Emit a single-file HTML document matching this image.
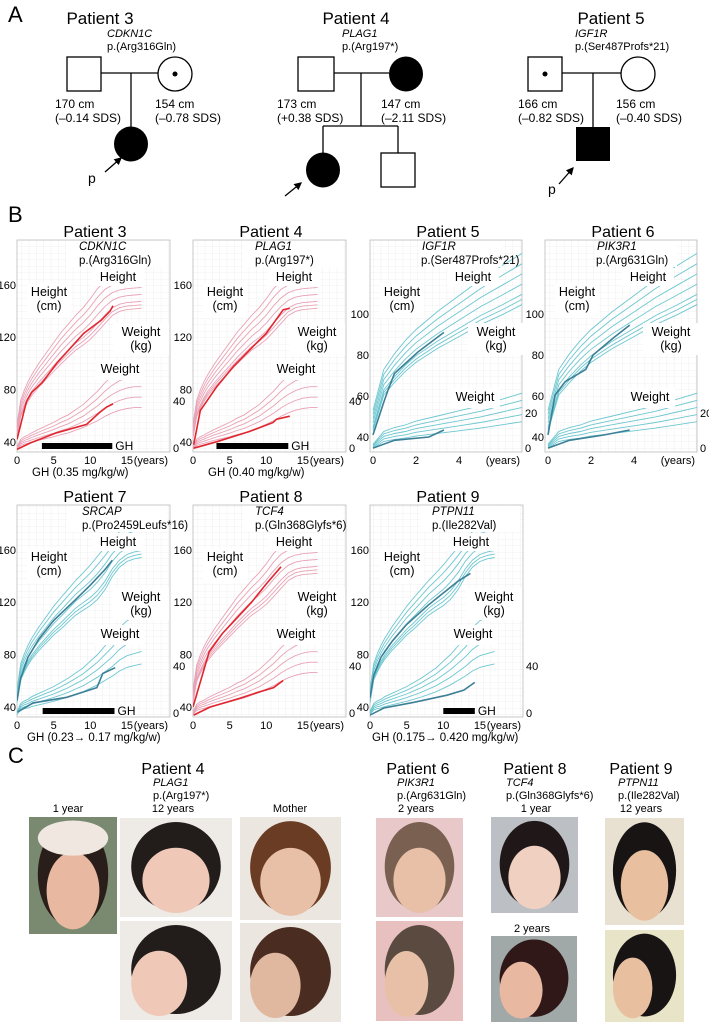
<!DOCTYPE html>
<html><head><meta charset="utf-8"><style>
html,body{margin:0;padding:0;background:#fff}
svg{display:block;font-family:"Liberation Sans",Arial,sans-serif}
</style></head><body>
<svg id="fig" width="709" height="1023" viewBox="0 0 709 1023" xmlns="http://www.w3.org/2000/svg">
<defs>
<pattern id="grid" width="7.33" height="6.5" patternUnits="userSpaceOnUse"><path d="M7.33 0V6.5H0" fill="none" stroke="#e6e6e6" stroke-width="0.6"/></pattern>
<marker id="arr" markerWidth="6" markerHeight="6" refX="5" refY="3" orient="auto"><path d="M0,0L6,3L0,6z" fill="#000"/></marker>
</defs>
<g id="panelA" font-size="12">
<text x="8" y="22" font-size="22">A</text>
<!-- Patient 3 -->
<g>
<text x="100" y="24" font-size="17" text-anchor="middle">Patient 3</text>
<text x="107" y="37" font-style="italic" font-size="11">CDKN1C</text>
<text x="107" y="50" font-size="11">p.(Arg316Gln)</text>
<rect x="67" y="57" width="34" height="34" fill="#fff" stroke="#000" stroke-width="1.3"/>
<circle cx="175" cy="74" r="17" fill="#fff" stroke="#000" stroke-width="1.3"/>
<circle cx="175" cy="74" r="2.5" fill="#000"/>
<line x1="101" y1="73" x2="158" y2="73" stroke="#000" stroke-width="1.3"/>
<line x1="131" y1="73" x2="131" y2="127" stroke="#000" stroke-width="1.3"/>
<ellipse cx="131" cy="144" rx="17" ry="17.5" fill="#000"/>
<text x="55" y="108">170 cm</text><text x="55" y="122">(–0.14 SDS)</text>
<text x="155" y="108">154 cm</text><text x="155" y="122">(–0.78 SDS)</text>
<line x1="105" y1="172" x2="121" y2="158" stroke="#000" stroke-width="1.3" marker-end="url(#arr)"/>
<text x="88" y="183" font-size="14">p</text>
</g>
<g>
<text x="356" y="24" font-size="17" text-anchor="middle">Patient 4</text>
<text x="342" y="37" font-style="italic" font-size="11">PLAG1</text>
<text x="342" y="50" font-size="11">p.(Arg197*)</text>
<rect x="298" y="57" width="36" height="34" fill="#fff" stroke="#000" stroke-width="1.3"/>
<ellipse cx="406" cy="74" rx="17" ry="17.5" fill="#000"/>
<line x1="334" y1="73" x2="389" y2="73" stroke="#000" stroke-width="1.3"/>
<line x1="361" y1="73" x2="361" y2="126" stroke="#000" stroke-width="1.3"/>
<line x1="323" y1="126" x2="398" y2="126" stroke="#000" stroke-width="1.3"/>
<line x1="323" y1="126" x2="323" y2="153" stroke="#000" stroke-width="1.3"/>
<line x1="398" y1="126" x2="398" y2="153" stroke="#000" stroke-width="1.3"/>
<ellipse cx="323" cy="170" rx="17" ry="17.5" fill="#000"/>
<rect x="381" y="153" width="34" height="34" fill="#fff" stroke="#000" stroke-width="1.3"/>
<text x="277" y="108">173 cm</text><text x="277" y="122">(+0.38 SDS)</text>
<text x="381" y="108">147 cm</text><text x="381" y="122">(–2.11 SDS)</text>
<line x1="285" y1="196" x2="301" y2="183" stroke="#000" stroke-width="1.3" marker-end="url(#arr)"/>
</g>
<g>
<text x="611" y="24" font-size="17" text-anchor="middle">Patient 5</text>
<text x="575" y="37" font-style="italic" font-size="11">IGF1R</text>
<text x="575" y="50" font-size="11">p.(Ser487Profs*21)</text>
<rect x="528" y="57" width="34" height="34" fill="#fff" stroke="#000" stroke-width="1.3"/>
<circle cx="545" cy="74" r="2.5" fill="#000"/>
<circle cx="638" cy="74" r="17" fill="#fff" stroke="#000" stroke-width="1.3"/>
<line x1="562" y1="73" x2="621" y2="73" stroke="#000" stroke-width="1.3"/>
<line x1="593" y1="73" x2="593" y2="127" stroke="#000" stroke-width="1.3"/>
<rect x="576" y="127" width="34" height="34" fill="#000"/>
<text x="518" y="108">166 cm</text><text x="518" y="122">(–0.82 SDS)</text>
<text x="616" y="108">156 cm</text><text x="616" y="122">(–0.40 SDS)</text>
<line x1="559" y1="184" x2="573" y2="168" stroke="#000" stroke-width="1.3" marker-end="url(#arr)"/>
<text x="548" y="194" font-size="14">p</text>
</g>
</g>
<text x="8" y="222" font-size="22">B</text>
<g id="charts"></g>
<g id="panelC"></g>
</svg>
<script>
// ---- reference growth data ----
const refAges = [0,0.5,1,1.5,2,3,4,5,6,7,8,9,10,11,12,13,14,15,16,17];
const girlHeightMean = [49,67,74,80,85,93,100,107,114,120,126,131,137,144,150,154,156,157,157.5,158];
const boyHeightMean = [49,68,75,81,86,94,101,108,114,120,126,131,136,142,149,157,163,167,169,170];
const heightSD = [2,2.5,2.8,3,3.2,3.6,4,4.4,4.8,5,5.3,5.7,6.2,6.6,6.5,5.8,5.4,5.3,5.3,5.3];
const girlWeightMean = [3,7.5,9,10,11.3,13.5,15.5,17.5,20,22,25,28,32,36,41,45,48,50,51,51];
const boyWeightMean = [3,8,9.5,10.5,12,14,16,18,20.5,23,26,29,33,37,42,47,53,57,59,61];
const heightZ = [2,1,0,-1,-2,-2.5,-3];
const weightZ = [2,1,0,-1,-2];
// ---- patient data ----
const p3Ages=[0,1.3,2,3.4,5.4,9.1,11.5,12.7,13.1], p3Height=[42,71,78,85,100,123,133,140,144];
const p3WAges=[0,1.8,5.4,9.5,11.3,12.2,13.1], p3Weight=[2,7,15,21.6,31,35,37.6];
const p4Ages=[0.1,1,3.2,5.5,8.2,10,12.3,13.2], p4Height=[38,64,82,97.5,113,123,141,142];
const p4WAges=[0.1,3.2,7.7,10.9,11.4,13.2], p4Weight=[3,8,16,23,25.6,28];
const p5Ages=[0,0.5,0.7,1,2.1,3.3], p5Height=[41,57,63,71,81.5,91];
const p5WAges=[0,1,2.6,3.3], p5Weight=[2,6,7.7,11.3];
const p6Ages=[0,0.33,0.8,1.76,2.1,3,3.8], p6Height=[41,60.5,67,73,80,88,94.6];
const p6WAges=[0,1,2.6,3.8], p6Weight=[2,6,8.7,11.3];
const p7Ages=[0,0.5,1.5,3,5,8,10,12,13], p7Height=[45,62,78,92,106,122,133,145,152];
const p7WAges=[0.1,2.2,6.8,10.9,11.7,13.4], p7Weight=[4,11,15.4,23,34,38.5];
const p8Ages=[0,2.2,4,6,8,10,12], p8Height=[40,82,96,108,120,134,147];
const p8WAges=[0.1,2.3,6.4,8.7,11,12.3], p8Weight=[1.5,7.7,14.6,19,23,28.5];
const p9Ages=[0,0.5,1.5,3,5,8,10,12,13.7], p9Height=[47,64,78,90,103,118,127,136,142];
const p9WAges=[0,1.9,6,10.5,12.8,14.3], p9Weight=[1.5,7,11.5,17,21,27];
const ghStart=[3.4,3.2,null,null,3.5,null,10], ghEnd=[13,13,null,null,13.3,null,14.3];

const NS='http://www.w3.org/2000/svg';
function mk(tag,attrs,parent,txt){const e=document.createElementNS(NS,tag);for(const k in attrs)e.setAttribute(k,attrs[k]);if(txt!=null)e.textContent=txt;parent.appendChild(e);return e;}
const RED='#e0262e',PINK='#e9a2b6',TEAL='#6cc7d0',DTEAL='#3d7f96';
const charts=[
 {n:3,x0:17,top:240,bot:452,inf:false,boy:false,gene:'CDKN1C',mut:'p.(Arg316Gln)',a:p3Ages,h:p3Height,wa:p3WAges,w:p3Weight,gh:'GH (0.35 mg/kg/w)'},
 {n:4,x0:193,top:240,bot:452,inf:false,boy:false,gene:'PLAG1',mut:'p.(Arg197*)',a:p4Ages,h:p4Height,wa:p4WAges,w:p4Weight,gh:'GH (0.40 mg/kg/w)'},
 {n:5,x0:370,top:240,bot:452,inf:true,boy:true,gene:'IGF1R',mut:'p.(Ser487Profs*21)',a:p5Ages,h:p5Height,wa:p5WAges,w:p5Weight,gh:null},
 {n:6,x0:545,top:240,bot:452,inf:true,boy:true,gene:'PIK3R1',mut:'p.(Arg631Gln)',a:p6Ages,h:p6Height,wa:p6WAges,w:p6Weight,gh:null},
 {n:7,x0:17,top:505,bot:717,inf:false,boy:true,gene:'SRCAP',mut:'p.(Pro2459Leufs*16)',a:p7Ages,h:p7Height,wa:p7WAges,w:p7Weight,gh:'GH (0.23\u2192 0.17 mg/kg/w)'},
 {n:8,x0:193,top:505,bot:717,inf:false,boy:false,gene:'TCF4',mut:'p.(Gln368Glyfs*6)',a:p8Ages,h:p8Height,wa:p8WAges,w:p8Weight,gh:null},
 {n:9,x0:370,top:505,bot:717,inf:false,boy:true,gene:'PTPN11',mut:'p.(Ile282Val)',a:p9Ages,h:p9Height,wa:p9WAges,w:p9Weight,gh:'GH (0.175\u2192 0.420 mg/kg/w)'}
];
const root=document.getElementById('charts');
charts.forEach((c,ci)=>{
 const g=mk('g',{},root);
 
 
 const W=c.inf?152:153, H=c.bot-c.top;
 const xs=c.inf?(a=>c.x0+3+a*21.5):(a=>c.x0+a*7.33);
 const hy=c.inf?(v=>c.bot-15-(v-40)*2.05):(v=>c.bot-10-(v-40)*1.31);
 const wy=c.inf?(v=>c.bot-v*1.95):(v=>c.bot-v*1.28);
 const cid='clip'+c.n;
 const cp=mk('clipPath',{id:cid},g);mk('rect',{x:c.x0,y:c.top,width:W,height:H},cp);
 mk('rect',{x:c.x0,y:c.top,width:W,height:H,fill:'url(#grid)',stroke:'#bbb','stroke-width':0.8},g);
 const refCol=c.boy?TEAL:PINK, patCol=c.boy?DTEAL:RED;
 const hm=c.boy?boyHeightMean:girlHeightMean, wm=c.boy?boyWeightMean:girlWeightMean;
 const lines=mk('g',{'clip-path':'url(#'+cid+')'},g);
 heightZ.forEach(z=>{let d='';refAges.forEach((a,i)=>{d+=(i?'L':'M')+xs(a).toFixed(1)+','+hy(hm[i]+z*heightSD[i]).toFixed(1);});
  const p=mk('path',{d:d,fill:'none',stroke:refCol,'stroke-width':0.9},lines);
  });
 weightZ.forEach(z=>{let d='';refAges.forEach((a,i)=>{d+=(i?'L':'M')+xs(a).toFixed(1)+','+wy(wm[i]*(1+0.16*z)).toFixed(1);});
  const p=mk('path',{d:d,fill:'none',stroke:refCol,'stroke-width':0.9},lines);
  });
 let d='';c.a.forEach((a,i)=>{d+=(i?'L':'M')+xs(a).toFixed(1)+','+hy(c.h[i]).toFixed(1);});
 const ph=mk('path',{d:d,fill:'none',stroke:patCol,'stroke-width':1.6},lines);
 
 d='';c.wa.forEach((a,i)=>{d+=(i?'L':'M')+xs(a).toFixed(1)+','+wy(c.w[i]).toFixed(1);});
 const pw=mk('path',{d:d,fill:'none',stroke:patCol,'stroke-width':1.6},lines);
 
 // label boxes
 const boxes=[[c.inf?77:75,28,52,18,['Height']],[10,43,44,35,['Height','(cm)']],[c.inf?98:96,83,56,32,['Weight','(kg)']],[c.inf?80:78,c.inf?148:120,50,20,['Weight']]];
 boxes.forEach(b=>{mk('rect',{x:c.x0+b[0],y:c.top+b[1],width:b[2],height:b[3],fill:'#fff'},g);
  b[4].forEach((t,k)=>{const tx=mk('text',{x:c.x0+b[0]+b[2]/2,y:c.top+b[1]+13+k*14,'font-size':12.5,'text-anchor':'middle'},g,t);
   });});
 // titles
 mk('text',{x:c.x0+78,y:c.top-3,'font-size':16,'text-anchor':'middle'},g,'Patient '+c.n);
 mk('rect',{x:c.x0+50,y:c.top+1,width:c.inf?82:100,height:26,fill:'#fff'},g);
 mk('text',{x:c.x0+(c.n==7?65:(c.inf?52:62)),y:c.top+10,'font-size':11.5,'font-style':'italic'},g,c.gene);
 mk('text',{x:c.x0+(c.n==7?65:(c.inf?51:62)),y:c.top+24,'font-size':11.5},g,c.mut);
 // axes
 const yt=c.inf?[40,60,80,100]:[40,80,120,160];
 yt.forEach(v=>mk('text',{x:c.x0-1,y:hy(v)+4,'font-size':11,'text-anchor':'end'},g,v));
 const wt=c.inf?[0,20]:[0,40];
 wt.forEach(v=>mk('text',{x:c.x0+W+3,y:wy(v)+(v?4:0),'font-size':11},g,v));
 const xt=c.inf?[0,2,4]:[0,5,10,15];
 xt.forEach(v=>mk('text',{x:xs(v),y:c.bot+12,'font-size':11,'text-anchor':'middle'},g,v));
 mk('text',{x:c.x0+W-2,y:c.bot+12,'font-size':11,'text-anchor':'end'},g,'(years)');
 if(ghStart[ci]!=null){const r=mk('rect',{x:xs(ghStart[ci]),y:c.bot-9,width:xs(ghEnd[ci])-xs(ghStart[ci]),height:6,fill:'#000'},g);
  
  mk('text',{x:xs(ghEnd[ci])+3,y:c.bot-2,'font-size':12},g,'GH');}
 if(c.gh){mk('text',{x:c.x0+(c.n==9?2:(c.n==7?10:15)),y:c.bot+24,'font-size':11.5},g,c.gh);}
});
// ---- Panel C ----
const C=document.getElementById('panelC');
mk('text',{x:8,y:763,'font-size':22},C,'C');
const heads=[[173,153,'Patient 4','PLAG1','p.(Arg197*)'],[418,397,'Patient 6','PIK3R1','p.(Arg631Gln)'],[535,506,'Patient 8','TCF4','p.(Gln368Glyfs*6)'],[641,618,'Patient 9','PTPN11','p.(Ile282Val)']];
heads.forEach(h=>{mk('text',{x:h[0],y:774,'font-size':16,'text-anchor':'middle'},C,h[2]);
 mk('text',{x:h[1],y:786,'font-size':11,'font-style':'italic'},C,h[3]);mk('text',{x:h[1],y:799,'font-size':11},C,h[4]);});
[[68,'1 year',812],[173,'12 years',812],[290,'Mother',812],[416,'2 years',812],[536,'1 year',812],[641,'12 years',812],[532,'2 years',932]].forEach(t=>mk('text',{x:t[0],y:t[2],'font-size':11,'text-anchor':'middle'},C,t[1]));
// photos: x,y,w,h,bg,hair,skin,profile
const photos=[[29,817,88,117,'#7a8a70','#2a1e1a','#e8b8a0',0,'#f0e8e0'],[120,818,112,99,'#eeeae6','#221c1a','#f0c8b8',0],[120,921,112,99,'#eeeae6','#221c1a','#f0c8b8',1],
[240,817,101,103,'#ece6e0','#6a3c24','#e8c0a8',0],[240,923,101,99,'#ece6e0','#4a2c20','#e0b8a0',1],[376,818,87,99,'#e8c8c8','#7a6050','#e8c0a8',0],[376,921,87,100,'#e8c0c0','#5a4a40','#e8c0a8',1],
[491,817,87,96,'#bcc0c4','#201818','#f0d0c0',0],[491,936,86,86,'#a0a8a8','#301818','#e8b8a0',1],[605,818,79,107,'#e8e0d0','#181414','#e8c0a0',0],[605,930,79,92,'#e8e4c8','#181414','#e8c0a0',1]];
photos.forEach((p,i)=>{const g=mk('g',{},C);
 
 mk('rect',{x:p[0],y:p[1],width:p[2],height:p[3],fill:p[4]},g);
 const cx=p[0]+p[2]/2, cy=p[1]+p[3]*0.55;
 mk('ellipse',{cx:cx,cy:cy-p[3]*0.06,rx:p[2]*0.4,ry:p[3]*0.45,fill:p[5]},g);
 mk('ellipse',{cx:p[7]?cx-p[2]*0.15:cx,cy:cy+p[3]*0.08,rx:p[2]*(p[7]?0.25:0.3),ry:p[3]*0.33,fill:p[6]},g);
 if(p[8])mk('ellipse',{cx:cx,cy:p[1]+p[3]*0.18,rx:p[2]*0.4,ry:p[3]*0.15,fill:p[8]},g);
});
</script>
</body></html>
